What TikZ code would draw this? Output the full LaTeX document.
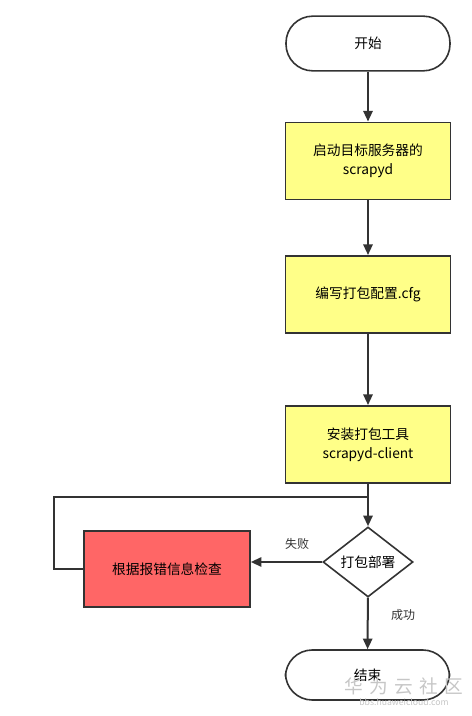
\documentclass[tikz,border=0pt]{standalone}
\usepackage{fontspec}
\setmainfont{Noto Sans CJK SC}
\usetikzlibrary{shapes.geometric,arrows.meta}
\definecolor{linegray}{HTML}{333333}
\definecolor{boxyellow}{HTML}{FFFF88}
\definecolor{boxred}{HTML}{FF6666}
\begin{document}
\begin{tikzpicture}[x=0.75pt,y=-0.75pt,
        font=\fontsize{10.3}{14}\selectfont,
        terminal/.style={rectangle, draw=linegray, line width=1.2pt, rounded corners=20pt, minimum width=123pt, align=center},
        process/.style={rectangle, draw=linegray, line width=1.2pt, fill=boxyellow, minimum width=124pt, minimum height=58pt, align=center},
        decision/.style={diamond, draw=linegray, line width=1.2pt, inner sep=0pt, minimum width=67.5pt, minimum height=52.5pt},
        arrow/.style={-{Triangle[length=8pt,width=7pt]}, line width=1.5pt, draw=linegray},
        label/.style={font=\fontsize{9}{11}\selectfont, text=linegray}
    ]
        \useasboundingbox (0,0) rectangle (471,716);

        % Main column
        \node[terminal, minimum height=41pt] (start) at (368,43.5) {开始};
        \node[process] (srv) at (368,161) {启动目标服务器的\\scrapyd};
        \node[process] (cfg) at (368,294.5) {编写打包配置.cfg};
        \node[process] (tool) at (368,444.5) {安装打包工具\\scrapyd-client};
        \node[decision] (deploy) at (368,562) {打包部署};
        \node[terminal, minimum height=37.5pt] (end) at (367.5,675) {结束};

        % Error branch
        \node[rectangle, draw=linegray, line width=1.2pt, fill=boxred, minimum width=124.5pt, minimum height=57pt] (check) at (167,569) {根据报错信息检查};
        \coordinate (join) at (368,497);

        \draw[arrow] (start) -- (srv);
        \draw[arrow] (srv) -- (cfg);
        \draw[arrow] (cfg) -- (tool);
        \draw[arrow] (tool) -- (deploy);
        \draw[arrow] (deploy.west) -- (deploy.west -| check.east);
        \draw[arrow] (deploy) -- (end);
        \draw[line width=1.2pt, draw=linegray] (check.west) -- ++(-29,0) |- (join);

        \node[label] at (297,544) {失败};
        \node[label] at (403,615) {成功};

        % Watermark
        \node[text=gray!45, font=\fontsize{14}{16}\selectfont] (mark) at (404,686) {华\,\,为\,\,云\,\,社\,\,区};
        \node[text=gray!45, font=\fontsize{6.5}{8}\selectfont] (site) at (404,702) {bbs.huaweicloud.com};
    \end{tikzpicture}
\end{document}
